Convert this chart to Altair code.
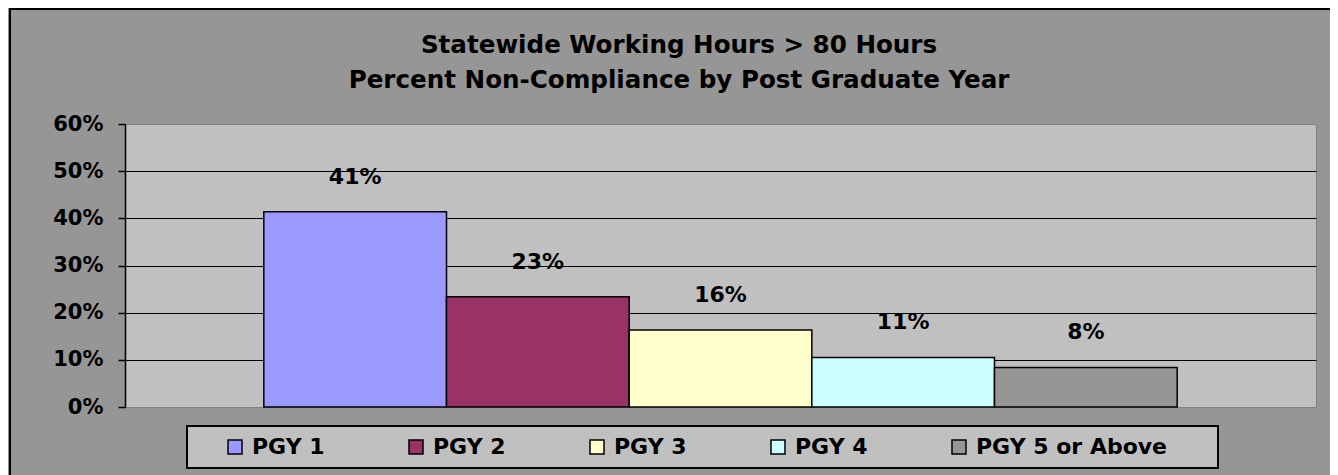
import altair as alt
import pandas as pd

# ---- data ----
categories = ["PGY 1", "PGY 2", "PGY 3", "PGY 4", "PGY 5 or Above"]
values = [0.414, 0.234, 0.163, 0.105, 0.084]
value_labels = ["41%", "23%", "16%", "11%", "8%"]
colors = ["#9999FF", "#993366", "#FFFFCC", "#CCFFFF", "#969696"]
title_lines = ["Statewide Working Hours > 80 Hours",
               "Percent Non-Compliance by Post Graduate Year"]
y_ticks = [0, 0.1, 0.2, 0.3, 0.4, 0.5, 0.6]

FONT = "DejaVu Sans"

df = pd.DataFrame({"group": categories, "pct": values, "label": value_labels})
blank = pd.DataFrame({"k": [0]})

x_enc = alt.X("group:N", sort=categories, axis=None,
              scale=alt.Scale(paddingInner=0, paddingOuter=0.76))
y_enc = alt.Y("pct:Q",
              scale=alt.Scale(domain=[0, 0.6], nice=False, zero=True),
              axis=alt.Axis(values=y_ticks, format=".0%", title=None,
                            labelFont=FONT, labelFontSize=21, labelFontWeight="bold",
                            labelColor="black", labelPadding=15,
                            tickColor="black", tickSize=7, tickWidth=1.5,
                            domainColor="black", domainWidth=1.5,
                            gridColor="black", gridWidth=1.2,
                            gridOpacity={"condition": {"test": "datum.value <= 0.001 || datum.value >= 0.599", "value": 0}, "value": 1}))

# legend frame (drawn behind the native legend entries)
legend_box = alt.Chart(blank).mark_rect(fill="#C0C0C0", stroke="black", strokeWidth=2).encode(
    x=alt.value(62), x2=alt.value(1093), y=alt.value(302), y2=alt.value(344))

bars = alt.Chart(df).mark_bar(stroke="black", strokeWidth=1.5, opacity=1).encode(
    x=x_enc,
    y=y_enc,
    color=alt.Color("group:N", sort=categories,
                    scale=alt.Scale(domain=categories, range=colors),
                    legend=alt.Legend(
                        title=None,
                        orient="none", legendX=99, legendY=312,
                        direction="horizontal", columns=5, columnPadding=80,
                        symbolType="square", symbolSize=196,
                        symbolStrokeColor="black", symbolStrokeWidth=1.5,
                        labelFont=FONT, labelFontSize=22, labelFontWeight="bold",
                        labelColor="black", labelOffset=6, labelLimit=400,
                        padding=0)),
)

labels = alt.Chart(df).mark_text(font=FONT, fontSize=22, fontWeight="bold",
                                 baseline="middle", dy=-35, color="black").encode(
    x=x_enc, y=alt.Y("pct:Q"), text="label:N")

title1 = alt.Chart(blank).mark_text(font=FONT, fontSize=24.6, fontWeight="bold",
                                    baseline="middle", align="center", color="black").encode(
    x=alt.value(554), y=alt.value(-78.5), text=alt.value(title_lines[0]))
title2 = alt.Chart(blank).mark_text(font=FONT, fontSize=24.6, fontWeight="bold",
                                    baseline="middle", align="center", color="black").encode(
    x=alt.value(554), y=alt.value(-43.5), text=alt.value(title_lines[1]))

left_border = alt.Chart(blank).mark_rule(color="black", strokeWidth=2).encode(
    x=alt.value(-115), y=alt.value(-116), y2=alt.value(351))
top_border = alt.Chart(blank).mark_rule(color="black", strokeWidth=2).encode(
    x=alt.value(-116), x2=alt.value(1205), y=alt.value(-115))

chart = alt.layer(legend_box, bars, labels, title1, title2, left_border, top_border).properties(
    width=1191, height=283,
    autosize=alt.AutoSizeParams(type="none"),
    padding={"left": 117, "top": 116, "right": 14, "bottom": 68},
    background="#969696",
).configure_view(fill="#C0C0C0", stroke="#808080", strokeWidth=1)

chart.save("out.html", embed_options={"renderer": "svg", "actions": False})
